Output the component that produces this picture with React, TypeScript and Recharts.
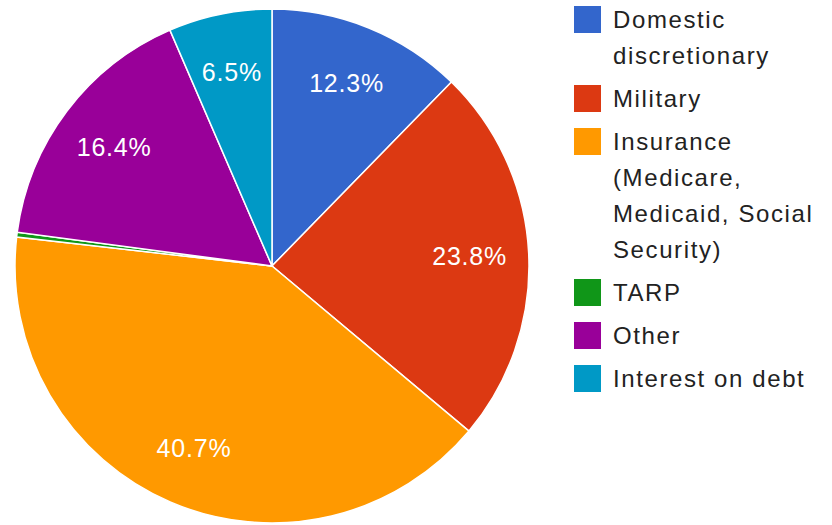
import React from "react";
import { PieChart, Pie, Cell, Legend } from "recharts";

const categories = [
  "Domestic discretionary",
  "Military",
  "Insurance (Medicare, Medicaid, Social Security)",
  "TARP",
  "Other",
  "Interest on debt",
];
const legendLines = [
  ["Domestic", "discretionary"],
  ["Military"],
  ["Insurance", "(Medicare,", "Medicaid, Social", "Security)"],
  ["TARP"],
  ["Other"],
  ["Interest on debt"],
];
const values = [12.3, 23.8, 40.7, 0.3, 16.4, 6.5];
const colors = ["#3366cc", "#dc3912", "#ff9900", "#109618", "#990099", "#0099c6"];

const data = categories.map((name, i) => ({ name, value: values[i] }));

const FONT = "'Liberation Sans', Arial, sans-serif";
const RAD = Math.PI / 180;

const renderLabel = (props: any) => {
  const { cx, cy, midAngle, outerRadius, percent, value } = props;
  if (percent < 0.05) return null;
  const r = outerRadius * 0.77;
  const x = cx + r * Math.cos(-midAngle * RAD);
  const y = cy + r * Math.sin(-midAngle * RAD);
  return (
    <text
      x={x}
      y={y}
      fill="#ffffff"
      textAnchor="middle"
      dominantBaseline="central"
      fontFamily={FONT}
      fontSize={25}
      letterSpacing={0.8}
    >
      {value.toFixed(1)}%
    </text>
  );
};

const renderLegend = () => (
  <div style={{ fontFamily: FONT, fontSize: 24, letterSpacing: 1.6, color: "#222" }}>
    {legendLines.map((lines, i) => (
      <div key={i} style={{ display: "flex", alignItems: "flex-start", marginBottom: 7 }}>
        <div
          style={{
            width: 27,
            height: 27,
            background: colors[i],
            flex: "0 0 auto",
            marginTop: 4,
            marginRight: 12,
          }}
        />
        <div style={{ lineHeight: "36px" }}>
          {lines.map((l, j) => (
            <div key={j} style={{ whiteSpace: "nowrap" }}>{l}</div>
          ))}
        </div>
      </div>
    ))}
  </div>
);

export default function App() {
  return (
    <div style={{ position: "absolute", left: 0, top: 0, width: 832, height: 525, background: "#fff" }}>
      <PieChart width={832} height={525} margin={{ top: 0, right: 0, bottom: 0, left: 0 }}>
        <Pie
          data={data}
          dataKey="value"
          nameKey="name"
          cx={272}
          cy={266}
          outerRadius={257}
          startAngle={90}
          endAngle={-270}
          stroke="#ffffff"
          strokeWidth={1.5}
          label={renderLabel}
          labelLine={false}
          isAnimationActive={false}
        >
          {data.map((d, i) => (
            <Cell key={d.name} fill={colors[i]} />
          ))}
        </Pie>
        <Legend
          content={renderLegend}
          layout="vertical"
          verticalAlign="top"
          align="right"
          wrapperStyle={{ left: 574, top: 2, width: 258 }}
        />
      </PieChart>
    </div>
  );
}
